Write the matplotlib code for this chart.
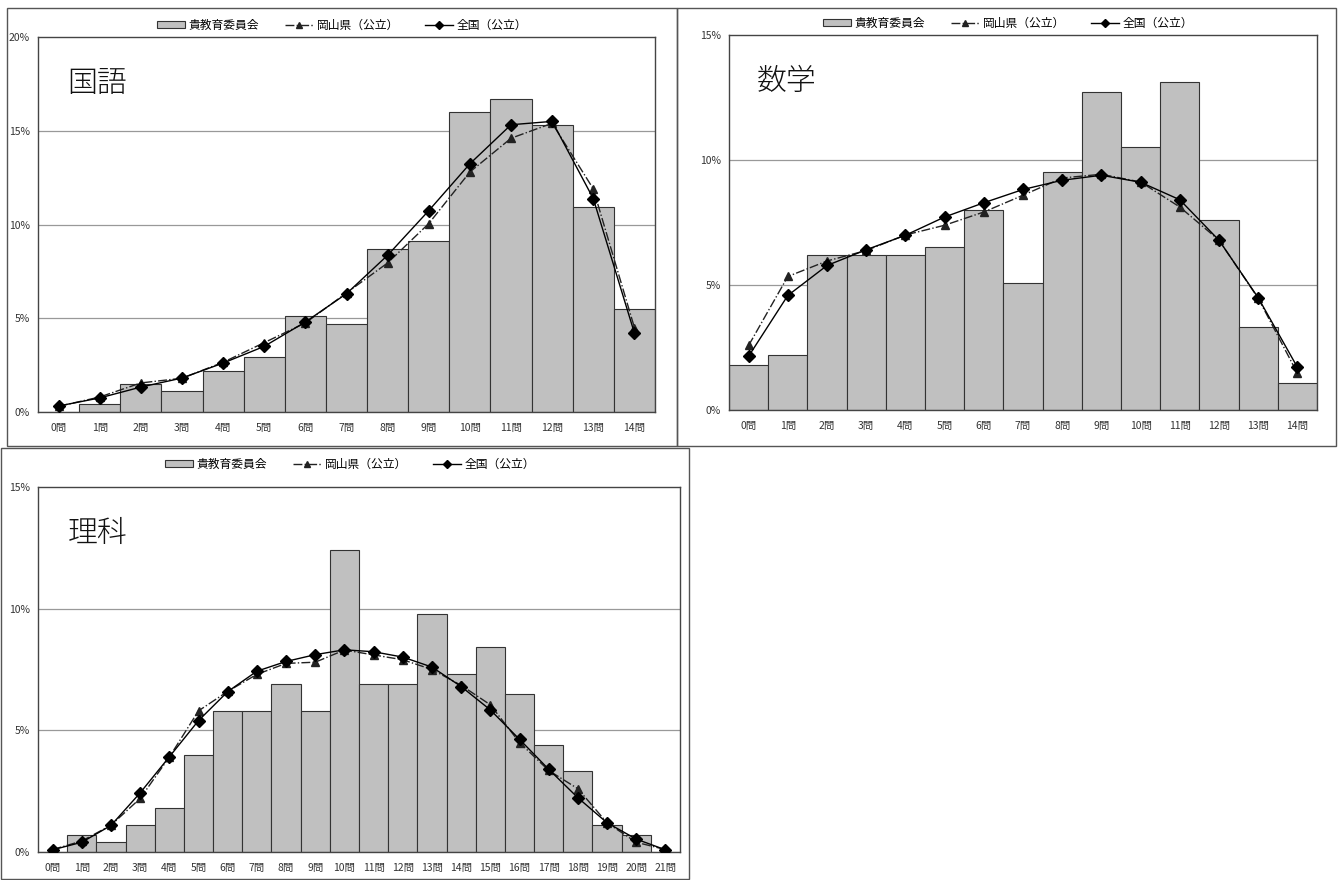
import numpy as np
import matplotlib
matplotlib.use('Agg')
import matplotlib.pyplot as plt
from matplotlib.patches import Rectangle
from matplotlib.lines import Line2D
from matplotlib.ticker import FuncFormatter

plt.rcParams['font.family'] = ['Noto Sans CJK JP', 'DejaVu Sans']

W, H = 1338, 880

LEGEND_LABELS = ['貴教育委員会', '岡山県（公立）', '全国（公立）']

# 国語
kokugo_cats = [f'{i}問' for i in range(15)]
kokugo_school = [0.0, 0.41, 1.51, 1.10, 2.20, 2.92, 5.12, 4.71, 8.71, 9.10, 16.0, 16.71, 15.32, 10.92, 5.51]
kokugo_pref = [0.30, 0.80, 1.55, 1.80, 2.65, 3.70, 4.75, 6.35, 7.95, 10.05, 12.8, 14.6, 15.4, 11.9, 4.50]
kokugo_nat = [0.32, 0.75, 1.33, 1.81, 2.61, 3.50, 4.80, 6.31, 8.36, 10.74, 13.24, 15.32, 15.5, 11.38, 4.21]

# 数学
sugaku_cats = [f'{i}問' for i in range(15)]
sugaku_school = [1.78, 2.18, 6.21, 6.18, 6.18, 6.50, 7.99, 5.09, 9.50, 12.73, 10.52, 13.13, 7.59, 3.30, 1.07]
sugaku_pref = [2.58, 5.34, 5.96, 6.38, 7.00, 7.39, 7.92, 8.59, 9.28, 9.43, 9.12, 8.12, 6.79, 4.47, 1.47]
sugaku_nat = [2.15, 4.58, 5.78, 6.41, 6.99, 7.72, 8.29, 8.82, 9.19, 9.39, 9.11, 8.41, 6.79, 4.49, 1.71]

# 理科
rika_cats = [f'{i}問' for i in range(22)]
rika_school = [0.0, 0.71, 0.40, 1.11, 1.80, 4.00, 5.80, 5.80, 6.91, 5.80, 12.4, 6.91, 6.91, 9.80,
               7.31, 8.41, 6.51, 4.40, 3.31, 1.11, 0.71, 0.0]
rika_pref = [0.10, 0.45, 1.10, 2.20, 3.90, 5.80, 6.60, 7.30, 7.75, 7.80, 8.30, 8.10, 7.90, 7.50,
             6.85, 6.05, 4.50, 3.35, 2.60, 1.20, 0.40, 0.10]
rika_nat = [0.09, 0.40, 1.09, 2.43, 3.91, 5.40, 6.59, 7.43, 7.83, 8.11, 8.31, 8.23, 8.01, 7.60,
            6.80, 5.84, 4.63, 3.40, 2.23, 1.20, 0.53, 0.09]


def px_axes(fig, x0, y0, x1, y1):
    return fig.add_axes([x0 / W, 1 - y1 / H, (x1 - x0) / W, (y1 - y0) / H])


def panel_border(fig, x0, y0, x1, y1):
    fig.patches.append(Rectangle((x0 / W, 1 - y1 / H), (x1 - x0) / W, (y1 - y0) / H,
                                 transform=fig.transFigure, fill=False,
                                 edgecolor='#555555', linewidth=1.0, zorder=0))


def draw_panel(fig, box, cats, school, pref, nat, ymax, title, leg_x, leg_y):
    ax = px_axes(fig, *box)
    x = np.arange(len(cats))
    ax.bar(x, school, width=1.0, color='#c0c0c0', edgecolor='#333333', linewidth=0.8, zorder=2)
    ax.plot(x, pref, color='#222222', linestyle='-.', linewidth=1.0, marker='^',
            markersize=6, zorder=3)
    ax.plot(x, nat, color='black', linestyle='-', linewidth=1.0, marker='D',
            markersize=6.5, zorder=4)
    ax.set_xlim(-0.5, len(cats) - 0.5)
    ax.set_ylim(0, ymax)
    ax.set_yticks(np.arange(0, ymax + 0.1, 5))
    ax.yaxis.set_major_formatter(FuncFormatter(lambda v, p: f'{int(v)}%'))
    ax.set_xticks(x)
    ax.set_xticklabels(cats)
    ax.tick_params(axis='both', length=0, labelsize=7.5, colors='#333333')
    ax.tick_params(axis='x', pad=8)
    ax.tick_params(axis='y', pad=6)
    for yv in np.arange(5, ymax, 5):
        ax.axhline(yv, color='#999999', linewidth=0.9, zorder=1)
    for s in ax.spines.values():
        s.set_color('#444444')
        s.set_linewidth(1.0)
    ax.text(0.047, 0.915, title, transform=ax.transAxes, fontsize=21.5, va='top', ha='left',
            fontweight='light', color='#111111')

    handles = [
        Rectangle((0, 0), 1, 1, facecolor='#c0c0c0', edgecolor='#333333', linewidth=0.8),
        Line2D([], [], color='#222222', linestyle='-.', marker='^', markersize=5, linewidth=1.0),
        Line2D([], [], color='black', linestyle='-', marker='D', markersize=4, linewidth=1.0),
    ]
    fig.legend(handles, LEGEND_LABELS, loc='center', bbox_to_anchor=(leg_x / W, 1 - leg_y / H),
               ncol=3, frameon=False, fontsize=8.5, handlelength=2.4, handleheight=0.5,
               columnspacing=2.2, handletextpad=0.3)
    return ax


fig = plt.figure(figsize=(W / 100, H / 100), dpi=100)

panel_border(fig, 7, 8, 677, 446)
panel_border(fig, 677, 8, 1336, 446)
panel_border(fig, 1, 448, 689, 879)

draw_panel(fig, (38, 37, 655, 412), kokugo_cats, kokugo_school, kokugo_pref, kokugo_nat,
           20, '国語', 342, 25)
draw_panel(fig, (729, 35, 1317, 410), sugaku_cats, sugaku_school, sugaku_pref, sugaku_nat,
           15, '数学', 1008, 23)
draw_panel(fig, (38, 487, 680, 852), rika_cats, rika_school, rika_pref, rika_nat,
           15, '理科', 350, 464)

plt.savefig('out.png', dpi=100)
plt.close()
